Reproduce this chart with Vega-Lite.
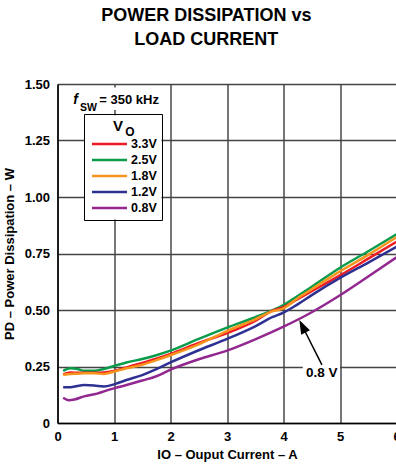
{
  "$schema": "https://vega.github.io/schema/vega-lite/v6.json",
  "width": 339,
  "height": 339,
  "autosize": {"type": "none"},
  "padding": {"left": 57.5, "top": 84, "right": 0, "bottom": 45},
  "background": "white",
  "title": {
    "text": ["POWER DISSIPATION vs", "LOAD CURRENT"],
    "font": "Liberation Sans",
    "fontSize": 18,
    "fontWeight": "bold",
    "lineHeight": 24.5,
    "anchor": "middle",
    "frame": "bounds",
    "offset": 29,
    "dx": 4,
    "color": "black"
  },
  "config": {
    "view": {"stroke": null},
    "axis": {
      "labelFont": "Liberation Sans",
      "labelFontSize": 13,
      "labelFontWeight": "bold",
      "labelColor": "black",
      "titleFont": "Liberation Sans",
      "titleFontSize": 13,
      "titleFontWeight": "bold",
      "titleColor": "black",
      "ticks": false,
      "domainColor": "black",
      "domainWidth": 1.5,
      "labelFlush": false,
      "labelOverlap": false
    },
    "text": {"font": "Liberation Sans", "fontWeight": "bold", "color": "black"},
    "legend": {
      "labelFont": "Liberation Sans",
      "titleFont": "Liberation Sans"
    }
  },
  "datasets": {
    "curves": [
      {"I": 0.1, "P": 0.231, "V": "2.5V"}, {"I": 0.23, "P": 0.242, "V": "2.5V"}, {"I": 0.35, "P": 0.239, "V": "2.5V"}, {"I": 0.47, "P": 0.231, "V": "2.5V"}, {"I": 0.65, "P": 0.231, "V": "2.5V"}, {"I": 0.82, "P": 0.239, "V": "2.5V"}, {"I": 1.0, "P": 0.252, "V": "2.5V"}, {"I": 1.22, "P": 0.268, "V": "2.5V"}, {"I": 1.5, "P": 0.283, "V": "2.5V"}, {"I": 1.75, "P": 0.3, "V": "2.5V"}, {"I": 2.0, "P": 0.32, "V": "2.5V"}, {"I": 2.5, "P": 0.372, "V": "2.5V"}, {"I": 3.0, "P": 0.422, "V": "2.5V"}, {"I": 3.5, "P": 0.468, "V": "2.5V"}, {"I": 3.8, "P": 0.498, "V": "2.5V"}, {"I": 4.0, "P": 0.522, "V": "2.5V"}, {"I": 4.25, "P": 0.562, "V": "2.5V"}, {"I": 4.5, "P": 0.603, "V": "2.5V"}, {"I": 5.0, "P": 0.687, "V": "2.5V"}, {"I": 5.5, "P": 0.76, "V": "2.5V"}, {"I": 6.0, "P": 0.835, "V": "2.5V"},
      {"I": 0.1, "P": 0.215, "V": "3.3V"}, {"I": 0.23, "P": 0.223, "V": "3.3V"}, {"I": 0.35, "P": 0.222, "V": "3.3V"}, {"I": 0.47, "P": 0.222, "V": "3.3V"}, {"I": 0.65, "P": 0.222, "V": "3.3V"}, {"I": 0.82, "P": 0.224, "V": "3.3V"}, {"I": 1.0, "P": 0.23, "V": "3.3V"}, {"I": 1.22, "P": 0.246, "V": "3.3V"}, {"I": 1.5, "P": 0.266, "V": "3.3V"}, {"I": 1.75, "P": 0.285, "V": "3.3V"}, {"I": 2.0, "P": 0.306, "V": "3.3V"}, {"I": 2.5, "P": 0.354, "V": "3.3V"}, {"I": 3.0, "P": 0.398, "V": "3.3V"}, {"I": 3.5, "P": 0.452, "V": "3.3V"}, {"I": 3.8, "P": 0.496, "V": "3.3V"}, {"I": 4.0, "P": 0.513, "V": "3.3V"}, {"I": 4.25, "P": 0.548, "V": "3.3V"}, {"I": 4.5, "P": 0.583, "V": "3.3V"}, {"I": 5.0, "P": 0.653, "V": "3.3V"}, {"I": 5.5, "P": 0.727, "V": "3.3V"}, {"I": 6.0, "P": 0.802, "V": "3.3V"},
      {"I": 0.1, "P": 0.212, "V": "1.8V"}, {"I": 0.23, "P": 0.217, "V": "1.8V"}, {"I": 0.35, "P": 0.218, "V": "1.8V"}, {"I": 0.47, "P": 0.22, "V": "1.8V"}, {"I": 0.65, "P": 0.22, "V": "1.8V"}, {"I": 0.82, "P": 0.217, "V": "1.8V"}, {"I": 1.0, "P": 0.227, "V": "1.8V"}, {"I": 1.22, "P": 0.242, "V": "1.8V"}, {"I": 1.5, "P": 0.258, "V": "1.8V"}, {"I": 1.75, "P": 0.278, "V": "1.8V"}, {"I": 2.0, "P": 0.3, "V": "1.8V"}, {"I": 2.5, "P": 0.348, "V": "1.8V"}, {"I": 3.0, "P": 0.407, "V": "1.8V"}, {"I": 3.5, "P": 0.459, "V": "1.8V"}, {"I": 3.8, "P": 0.494, "V": "1.8V"}, {"I": 4.0, "P": 0.507, "V": "1.8V"}, {"I": 4.25, "P": 0.552, "V": "1.8V"}, {"I": 4.5, "P": 0.592, "V": "1.8V"}, {"I": 5.0, "P": 0.671, "V": "1.8V"}, {"I": 5.5, "P": 0.744, "V": "1.8V"}, {"I": 6.0, "P": 0.822, "V": "1.8V"},
      {"I": 0.1, "P": 0.158, "V": "1.2V"}, {"I": 0.23, "P": 0.158, "V": "1.2V"}, {"I": 0.35, "P": 0.164, "V": "1.2V"}, {"I": 0.47, "P": 0.168, "V": "1.2V"}, {"I": 0.65, "P": 0.166, "V": "1.2V"}, {"I": 0.82, "P": 0.162, "V": "1.2V"}, {"I": 1.0, "P": 0.171, "V": "1.2V"}, {"I": 1.22, "P": 0.19, "V": "1.2V"}, {"I": 1.5, "P": 0.212, "V": "1.2V"}, {"I": 1.75, "P": 0.238, "V": "1.2V"}, {"I": 2.0, "P": 0.268, "V": "1.2V"}, {"I": 2.5, "P": 0.322, "V": "1.2V"}, {"I": 3.0, "P": 0.372, "V": "1.2V"}, {"I": 3.5, "P": 0.428, "V": "1.2V"}, {"I": 3.8, "P": 0.468, "V": "1.2V"}, {"I": 4.0, "P": 0.488, "V": "1.2V"}, {"I": 4.25, "P": 0.525, "V": "1.2V"}, {"I": 4.5, "P": 0.566, "V": "1.2V"}, {"I": 5.0, "P": 0.642, "V": "1.2V"}, {"I": 5.5, "P": 0.71, "V": "1.2V"}, {"I": 6.0, "P": 0.78, "V": "1.2V"},
      {"I": 0.1, "P": 0.112, "V": "0.8V"}, {"I": 0.2, "P": 0.101, "V": "0.8V"}, {"I": 0.3, "P": 0.104, "V": "0.8V"}, {"I": 0.47, "P": 0.118, "V": "0.8V"}, {"I": 0.7, "P": 0.13, "V": "0.8V"}, {"I": 0.85, "P": 0.142, "V": "0.8V"}, {"I": 1.0, "P": 0.153, "V": "0.8V"}, {"I": 1.22, "P": 0.168, "V": "0.8V"}, {"I": 1.5, "P": 0.188, "V": "0.8V"}, {"I": 1.75, "P": 0.207, "V": "0.8V"}, {"I": 2.0, "P": 0.236, "V": "0.8V"}, {"I": 2.5, "P": 0.282, "V": "0.8V"}, {"I": 3.0, "P": 0.32, "V": "0.8V"}, {"I": 3.5, "P": 0.37, "V": "0.8V"}, {"I": 4.0, "P": 0.426, "V": "0.8V"}, {"I": 4.5, "P": 0.49, "V": "0.8V"}, {"I": 5.0, "P": 0.565, "V": "0.8V"}, {"I": 5.5, "P": 0.648, "V": "0.8V"}, {"I": 6.0, "P": 0.733, "V": "0.8V"}
    ]
  },
  "layer": [
    {
      "data": {"values": [{"x": 0.25, "x2": 1.95, "y": 1.385, "y2": 1.485}, {"x": 4.34, "x2": 5.0, "y": 0.19, "y2": 0.257}, {"x": 0.48, "x2": 1.84, "y": 0.9, "y2": 1.362}]},
      "mark": {"type": "rect", "fill": "white"},
      "encoding": {
        "x": {"field": "x", "type": "quantitative", "scale": {"domain": [0, 6], "nice": false}, "axis": {"title": "IO – Ouput Current  – A", "values": [0, 1, 2, 3, 4, 5, 6], "format": "d", "grid": true, "gridColor": "#1a1a1a", "gridWidth": 1.2, "labelPadding": 7, "titlePadding": 5}},
        "x2": {"field": "x2"},
        "y": {"field": "y", "type": "quantitative", "scale": {"domain": [0, 1.5], "nice": false}, "axis": {"title": "PD – Power Dissipation – W", "values": [0, 0.25, 0.5, 0.75, 1.0, 1.25, 1.5], "labelExpr": "datum.value === 0 ? '0' : format(datum.value, '.2f')", "grid": true, "gridColor": "#444", "gridWidth": 1.4, "labelPadding": 8, "titlePadding": 8}},
        "y2": {"field": "y2"}
      }
    },
    {
      "data": {"name": "curves"},
      "mark": {"type": "line", "strokeWidth": 2.5, "interpolate": "monotone"},
      "encoding": {
        "x": {"field": "I", "type": "quantitative"},
        "y": {"field": "P", "type": "quantitative"},
        "color": {
          "field": "V",
          "type": "nominal",
          "scale": {"domain": ["3.3V", "2.5V", "1.8V", "1.2V", "0.8V"], "range": ["#ED1C24", "#0A9B4B", "#F7941D", "#2E3192", "#92278F"]},
          "legend": {
            "orient": "none",
            "legendX": 26.5,
            "legendY": 30,
            "title": "V",
            "titleFontSize": 15,
            "titleFontWeight": "bold",
            "titleColor": "black",
            "titleAnchor": "middle",
            "titleAlign": "right",
            "titlePadding": 2.5,
            "padding": 5,
            "strokeColor": "black",
            "fillColor": "transparent",
            "symbolType": "M-3,0H3",
            "symbolSize": 136,
            "symbolStrokeWidth": 2.5,
            "symbolOffset": 13,
            "labelOffset": 14,
            "labelFontSize": 12.5,
            "labelFontWeight": "bold",
            "labelColor": "black",
            "rowPadding": 2
          }
        }
      }
    },
    {
      "data": {"values": [{"x": 0.28, "y": 1.41, "t": "f"}]},
      "mark": {"type": "text", "align": "left", "baseline": "alphabetic", "fontSize": 14, "fontStyle": "italic"},
      "encoding": {"x": {"field": "x", "type": "quantitative"}, "y": {"field": "y", "type": "quantitative"}, "text": {"field": "t"}}
    },
    {
      "data": {"values": [{"x": 0.398, "y": 1.381, "t": "SW"}]},
      "mark": {"type": "text", "align": "left", "baseline": "alphabetic", "fontSize": 10.5},
      "encoding": {"x": {"field": "x", "type": "quantitative"}, "y": {"field": "y", "type": "quantitative"}, "text": {"field": "t"}}
    },
    {
      "data": {"values": [{"x": 0.74, "y": 1.41, "t": "= 350 kHz"}]},
      "mark": {"type": "text", "align": "left", "baseline": "alphabetic", "fontSize": 13},
      "encoding": {"x": {"field": "x", "type": "quantitative"}, "y": {"field": "y", "type": "quantitative"}, "text": {"field": "t"}}
    },
    {
      "data": {"values": [{"x": 4.676, "y": 0.203, "t": "0.8 V"}]},
      "mark": {"type": "text", "align": "center", "baseline": "alphabetic", "fontSize": 13.5},
      "encoding": {"x": {"field": "x", "type": "quantitative"}, "y": {"field": "y", "type": "quantitative"}, "text": {"field": "t"}}
    },
    {
      "data": {"values": [{"x": 1.2, "y": 1.27, "t": "O"}]},
      "mark": {"type": "text", "align": "left", "baseline": "alphabetic", "fontSize": 12},
      "encoding": {"x": {"field": "x", "type": "quantitative"}, "y": {"field": "y", "type": "quantitative"}, "text": {"field": "t"}}
    },
    {
      "data": {"values": [{"x": 4.68, "y": 0.257, "x2": 4.335, "y2": 0.428}]},
      "mark": {"type": "rule", "strokeWidth": 1.5, "color": "black"},
      "encoding": {"x": {"field": "x", "type": "quantitative"}, "y": {"field": "y", "type": "quantitative"}, "x2": {"field": "x2"}, "y2": {"field": "y2"}}
    },
    {
      "data": {"values": [{"x": 4.335, "y": 0.428}]},
      "mark": {"type": "point", "shape": "M0,-1L0.7,1L-0.7,1Z", "size": 196, "angle": 333.6, "filled": true, "color": "black", "opacity": 1},
      "encoding": {"x": {"field": "x", "type": "quantitative"}, "y": {"field": "y", "type": "quantitative"}}
    }
  ]
}
